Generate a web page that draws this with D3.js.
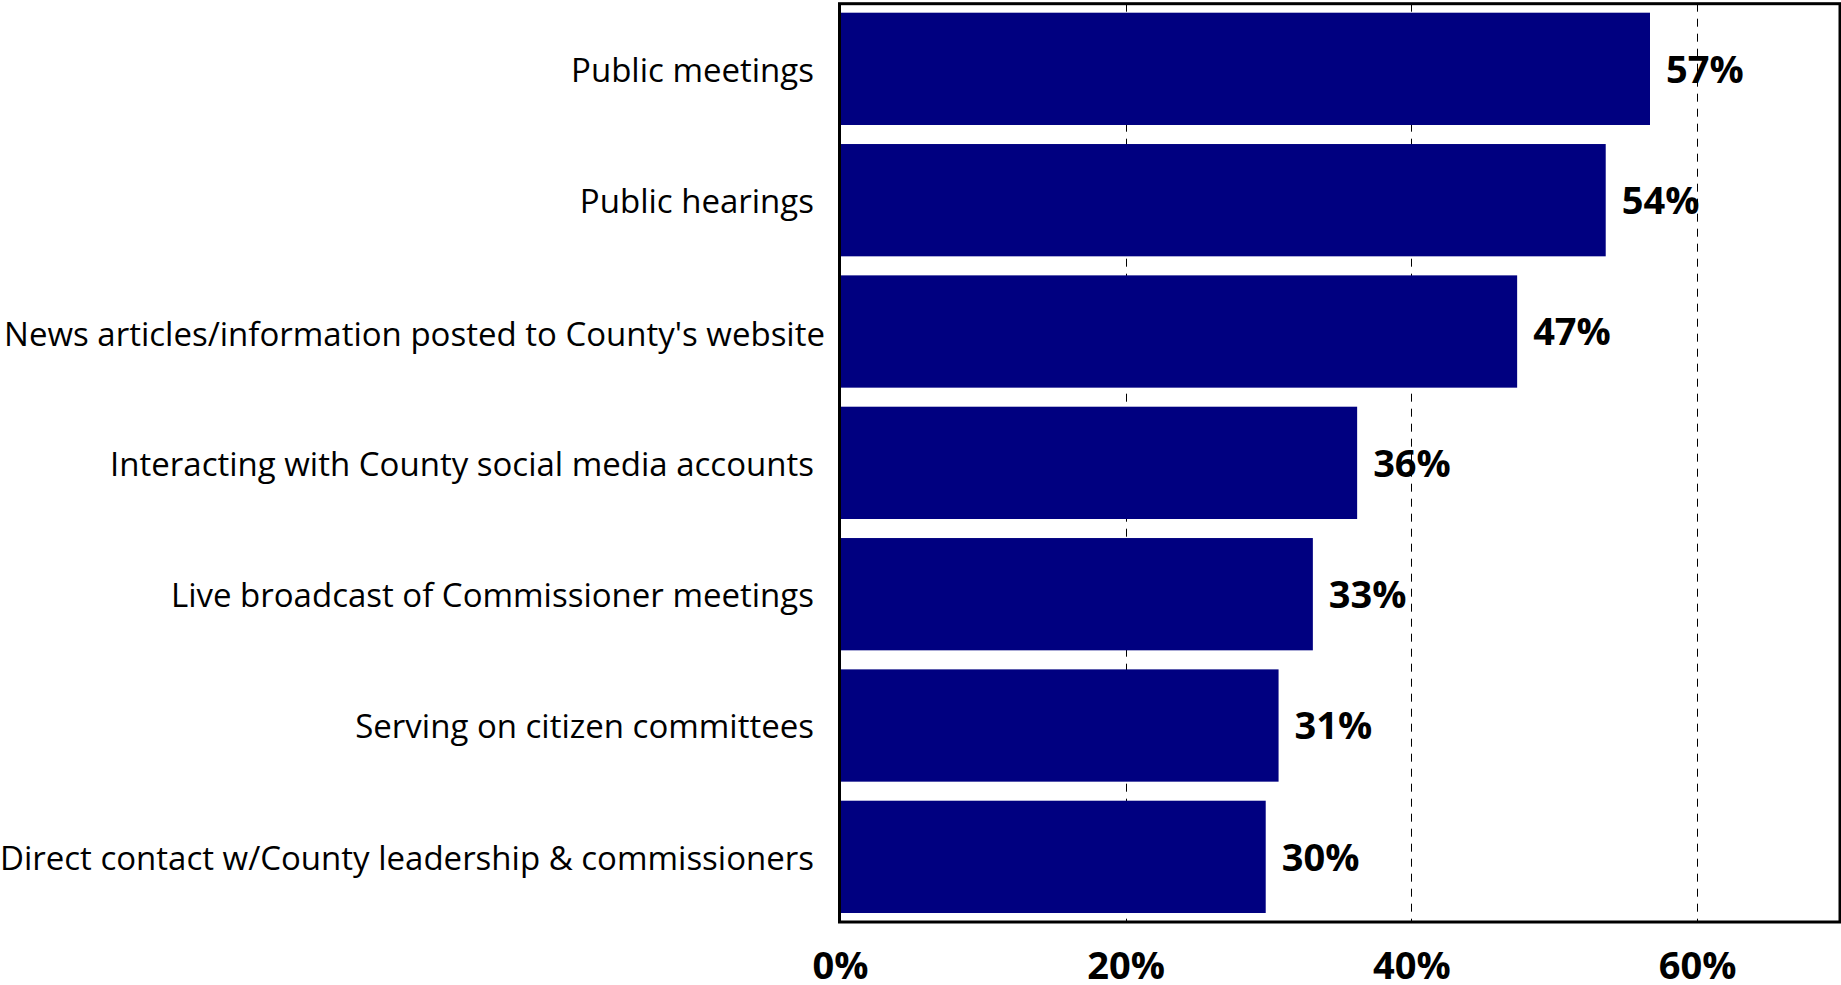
<!DOCTYPE html>
<html>
<head>
<meta charset="utf-8">
<script src="https://cdn.jsdelivr.net/npm/d3@7"></script>
<style>
  html, body { margin: 0; padding: 0; background: #fff; }
  svg { display: block; }
</style>
</head>
<body>
<svg id="chart" width="1841" height="985"></svg>
<script>
// ---- data ----
const categories = [
  "Public meetings",
  "Public hearings",
  "News articles/information posted to County's website",
  "Interacting with County social media accounts",
  "Live broadcast of Commissioner meetings",
  "Serving on citizen committees",
  "Direct contact w/County leadership & commissioners"
];
const values = [56.7, 53.6, 47.4, 36.2, 33.1, 30.7, 29.8];
const valueLabels = ["57%", "54%", "47%", "36%", "33%", "31%", "30%"];
const tickValues = [0, 20, 40, 60];
const tickLabels = ["0%", "20%", "40%", "60%"];

(function () {
// ---- layout ----
const svg = d3.select("#chart");
const pLeft = 840, pRight = 1840, pTop = 3.7, pBottom = 922;

const x = d3.scaleLinear().domain([0, 70]).range([pLeft, pRight]);
const y = d3.scaleBand().domain(categories).range([pTop, pBottom])
  .paddingInner(0.145).paddingOuter(0.0685);

// gridlines (dashed) behind bars
svg.append("g").selectAll("line")
  .data(tickValues.filter(d => d > 0))
  .join("line")
  .attr("x1", d => Math.round(x(d)) + 0.5)
  .attr("x2", d => Math.round(x(d)) + 0.5)
  .attr("y1", pTop)
  .attr("y2", pBottom)
  .attr("stroke", "#000")
  .attr("stroke-width", 1)
  .attr("stroke-dasharray", "8,7");

// bars
svg.append("g").selectAll("rect")
  .data(values)
  .join("rect")
  .attr("x", x(0))
  .attr("y", (d, i) => y(categories[i]))
  .attr("width", d => x(d) - x(0))
  .attr("height", y.bandwidth())
  .attr("fill", "#000080");

// value labels
svg.append("g").selectAll("text")
  .data(values)
  .join("text")
  .attr("x", d => x(d) + 16)
  .attr("y", (d, i) => y(categories[i]) + y.bandwidth() / 2)
  .attr("dy", "0.36em")
  .attr("font-family", "'Open Sans', sans-serif")
  .attr("font-weight", "bold")
  .attr("font-size", 38)
  .attr("fill", "#000")
  .text((d, i) => valueLabels[i]);

// frame
svg.append("rect")
  .attr("x", 839.5).attr("y", pTop)
  .attr("width", pRight - 839.5).attr("height", pBottom - pTop)
  .attr("fill", "none").attr("stroke", "#000").attr("stroke-width", 3);

// category axis labels
const yAxis = d3.axisLeft(y).tickSize(0).tickPadding(0);
const gy = svg.append("g").attr("transform", `translate(${825},0)`).call(yAxis);
gy.select(".domain").remove();
gy.selectAll("text")
  .attr("font-family", "'Open Sans', sans-serif")
  .attr("font-size", 33)
  .attr("fill", "#000")
  .attr("dy", "0.36em")
  .attr("x", (d, i) => i === 2 ? 0 : -11)
  .attr("y", (d, i) => i === 2 ? 3 : 1);

// x axis tick labels
const xAxis = d3.axisBottom(x).tickValues(tickValues)
  .tickFormat((d, i) => tickLabels[i]).tickSize(0).tickPadding(0);
const gx = svg.append("g").attr("transform", `translate(0,${pBottom})`).call(xAxis);
gx.select(".domain").remove();
gx.selectAll("text")
  .attr("font-family", "'Open Sans', sans-serif")
  .attr("font-weight", "bold")
  .attr("font-size", 38)
  .attr("fill", "#000")
  .attr("dy", null)
  .attr("y", 57);
})();
</script>
</body>
</html>
